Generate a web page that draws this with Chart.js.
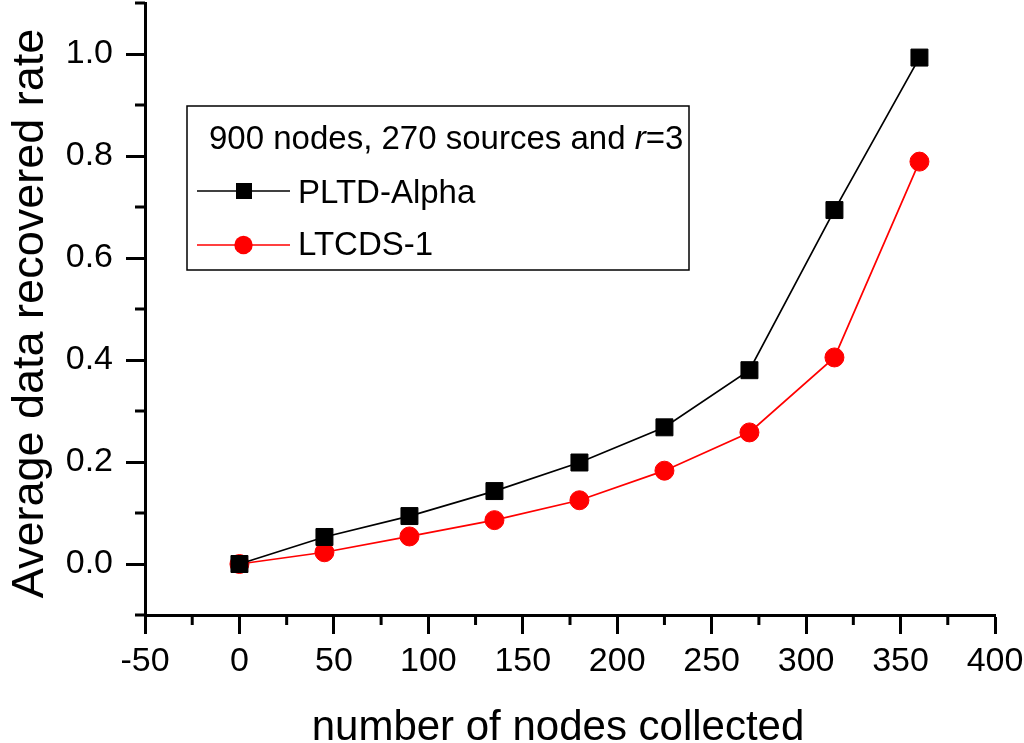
<!DOCTYPE html>
<html><head><meta charset="utf-8">
<script src="https://cdn.jsdelivr.net/npm/chart.js@4.4.0/dist/chart.umd.min.js"></script>
<style>html,body{margin:0;padding:0;background:#fff;overflow:hidden;}</style>
</head><body>
<canvas id="c" width="1024" height="743" style="width:1024px;height:743px;display:block"></canvas>
<script>
const nodesCollected = [0, 45, 90, 135, 180, 225, 270, 315, 360];
const pltdAlpha = [0, 0.053, 0.094, 0.143, 0.199, 0.268, 0.380, 0.694, 0.993];
const ltcds1 = [0, 0.023, 0.054, 0.086, 0.125, 0.183, 0.258, 0.405, 0.789];
const xMajorTicks = [-50, 0, 50, 100, 150, 200, 250, 300, 350, 400];
const xMinorTicks = [-25, 25, 75, 125, 175, 225, 275, 325, 375];
const yMajorTicks = [0, 0.2, 0.4, 0.6, 0.8, 1.0];
const yMinorTicks = [-0.1, 0.1, 0.3, 0.5, 0.7, 0.9, 1.1];
const legendTitleParts = ['900 nodes, 270 sources and ', 'r', '=3'];
const seriesNames = ['PLTD-Alpha', 'LTCDS-1'];
const xTitle = 'number of nodes collected';
const yTitle = 'Average data recovered rate';

const FONT = "'Liberation Sans', Arial, sans-serif";

const minorTicks = {
  id: 'minorTicks',
  afterDraw(chart) {
    const ctx = chart.ctx, a = chart.chartArea;
    const xs = chart.scales.x, ys = chart.scales.y;
    ctx.save();
    ctx.strokeStyle = '#000';
    ctx.lineWidth = 3;
    ctx.lineCap = 'butt';
    ctx.beginPath();
    xMinorTicks.forEach(v => {
      const px = xs.getPixelForValue(v);
      ctx.moveTo(px, a.bottom); ctx.lineTo(px, a.bottom + 10);
    });
    yMinorTicks.forEach(v => {
      const py = ys.getPixelForValue(v);
      ctx.moveTo(a.left - 10, py); ctx.lineTo(a.left, py);
    });
    ctx.stroke();
    ctx.restore();
  }
};

const axisTitles = {
  id: 'axisTitles',
  afterDraw(chart) {
    const ctx = chart.ctx;
    ctx.save();
    ctx.fillStyle = '#000';
    ctx.textAlign = 'center';
    ctx.textBaseline = 'alphabetic';
    ctx.font = '42px ' + FONT;
    ctx.fillText(xTitle, 558, 740);
    ctx.translate(43, 313.5);
    ctx.rotate(-Math.PI / 2);
    ctx.font = '45px ' + FONT;
    ctx.fillText(yTitle, 0, 0);
    ctx.restore();
  }
};

const boxLegend = {
  id: 'boxLegend',
  afterDraw(chart) {
    const ctx = chart.ctx;
    const bx = 187, by = 106, bw = 502, bh = 164;
    ctx.save();
    ctx.fillStyle = '#fff';
    ctx.fillRect(bx, by, bw, bh);
    ctx.strokeStyle = '#000';
    ctx.lineWidth = 1.5;
    ctx.strokeRect(bx, by, bw, bh);
    ctx.fillStyle = '#000';
    ctx.textBaseline = 'middle';
    ctx.textAlign = 'left';
    let tx = 209;
    const ty = 140;
    legendTitleParts.forEach((p, i) => {
      ctx.font = (i === 1 ? 'italic ' : '') + '33px ' + FONT;
      ctx.fillText(p, tx, ty);
      tx += ctx.measureText(p).width;
    });
    const lineY = [191, 245];
    const textY = [194, 245.5];
    chart.data.datasets.forEach((ds, i) => {
      const y = lineY[i];
      ctx.strokeStyle = ds.borderColor;
      ctx.lineWidth = ds.borderWidth;
      ctx.beginPath();
      ctx.moveTo(197, y); ctx.lineTo(290, y);
      ctx.stroke();
      ctx.fillStyle = ds.pointBackgroundColor;
      if (ds.pointStyle === 'rect') {
        ctx.fillRect(244 - 8, y - 8, 16, 16);
      } else {
        ctx.beginPath();
        ctx.arc(243.5, y, 9.2, 0, Math.PI * 2);
        ctx.fill();
      }
      ctx.fillStyle = '#000';
      ctx.font = '33px ' + FONT;
      ctx.fillText(ds.label, 298, textY[i]);
    });
    ctx.restore();
  }
};

new Chart(document.getElementById('c'), {
  type: 'line',
  data: {
    datasets: [
      {
        label: seriesNames[0],
        data: nodesCollected.map((x, i) => ({x, y: pltdAlpha[i]})),
        borderColor: '#000', backgroundColor: '#000',
        pointBackgroundColor: '#000', pointBorderColor: '#000',
        borderWidth: 1.7, pointStyle: 'rect', pointRadius: 12, pointBorderWidth: 1,
        tension: 0, fill: false
      },
      {
        label: seriesNames[1],
        data: nodesCollected.map((x, i) => ({x, y: ltcds1[i]})),
        borderColor: '#ff0000', backgroundColor: '#ff0000',
        pointBackgroundColor: '#ff0000', pointBorderColor: '#ff0000',
        borderWidth: 1.7, pointStyle: 'circle', pointRadius: 9.5, pointBorderWidth: 1,
        tension: 0, fill: false
      }
    ]
  },
  options: {
    responsive: false,
    animation: false,
    devicePixelRatio: 1,
    clip: false,
    layout: {autoPadding: false, padding: {left: 0, right: 29, top: 3, bottom: 0}},
    plugins: {legend: {display: false}, tooltip: {enabled: false}},
    scales: {
      x: {
        type: 'linear', min: -50, max: 400,
        afterBuildTicks: s => { s.ticks = xMajorTicks.map(v => ({value: v})); },
        afterFit: s => { s.height = 128; s.paddingLeft = 0; s.paddingRight = 0; },
        grid: {drawOnChartArea: false, drawTicks: true, tickLength: 19, tickWidth: 3, tickColor: '#000', color: '#000'},
        border: {display: true, width: 3, color: '#000'},
        ticks: {font: {family: FONT, size: 34}, color: '#000', padding: 7, maxRotation: 0, autoSkip: false,
                callback: v => String(v)},
        title: {display: false}
      },
      y: {
        type: 'linear', min: -0.1, max: 1.1,
        afterBuildTicks: s => { s.ticks = yMajorTicks.map(v => ({value: v})); },
        afterFit: s => { s.width = 145; s.paddingTop = 0; s.paddingBottom = 0; },
        grid: {drawOnChartArea: false, drawTicks: true, tickLength: 19, tickWidth: 3, tickColor: '#000', color: '#000'},
        border: {display: true, width: 3, color: '#000'},
        ticks: {font: {family: FONT, size: 34}, color: '#000', padding: 13, autoSkip: false,
                callback: v => Number(v).toFixed(1)},
        title: {display: false}
      }
    }
  },
  plugins: [minorTicks, axisTitles, boxLegend]
});
</script>
</body></html>
